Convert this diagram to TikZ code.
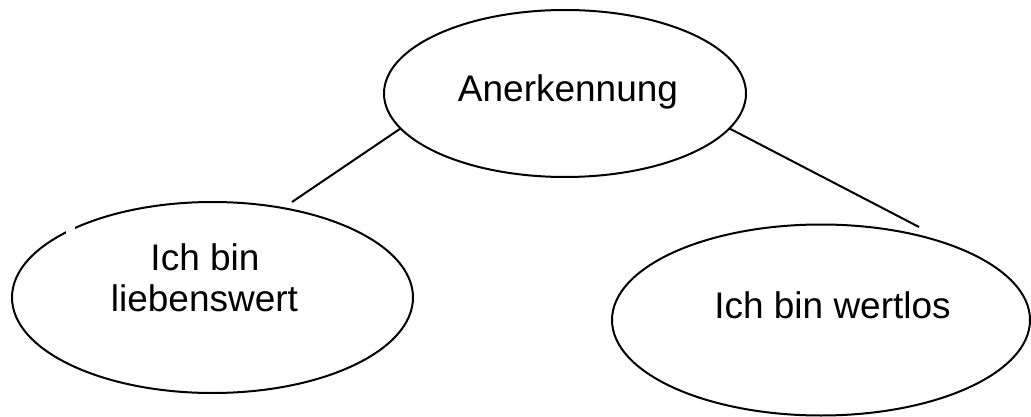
\documentclass[tikz,border=0pt]{standalone}
\usepackage{fontspec}
\setmainfont{Liberation Sans}
\usetikzlibrary{shapes.geometric}

\begin{document}
\begin{tikzpicture}[x=0.75pt, y=-0.75pt,
  bubble/.style={draw=black, line width=1.5pt, ellipse, inner sep=0pt, outer sep=0pt},
  label text/.style={font=\fontsize{27.75pt}{31.3pt}\selectfont, inner sep=0pt, anchor=base, align=center},
  link/.style={draw=black, line width=1.5pt}]
  \useasboundingbox (0,0) rectangle (1031,417);

  % the three ellipses
  \node[bubble, minimum width=362*0.75pt, minimum height=167*0.75pt] (top)   at (565,93.5) {};
  \node[bubble, minimum width=401*0.75pt, minimum height=191*0.75pt] (left)  at (212.5,297.5) {};
  \node[bubble, minimum width=418*0.75pt, minimum height=191*0.75pt] (right) at (821,320) {};

  % small breaks in the outlines
  \fill[white] (66,222) rectangle (75,235);
  \fill[white] (968.5,388) rectangle (971.5,397);

  % labels
  \node[label text] (tTop) at (568,101.7) {Anerkennung};
  \node[label text] (tLeftA) at (205,270) {Ich bin};
  \node[label text] (tLeftB) at (204.5,311.7) {liebenswert};
  \node[label text] (tRight) at (832.5,318.3) {Ich bin wertlos};

  % connectors
  \coordinate (leftEnd)  at (292,202);
  \coordinate (rightEnd) at (919,227);
  \draw[link] (top.192.3) -- (leftEnd);
  \draw[link] (top.348)   -- (rightEnd);
\end{tikzpicture}
\end{document}
